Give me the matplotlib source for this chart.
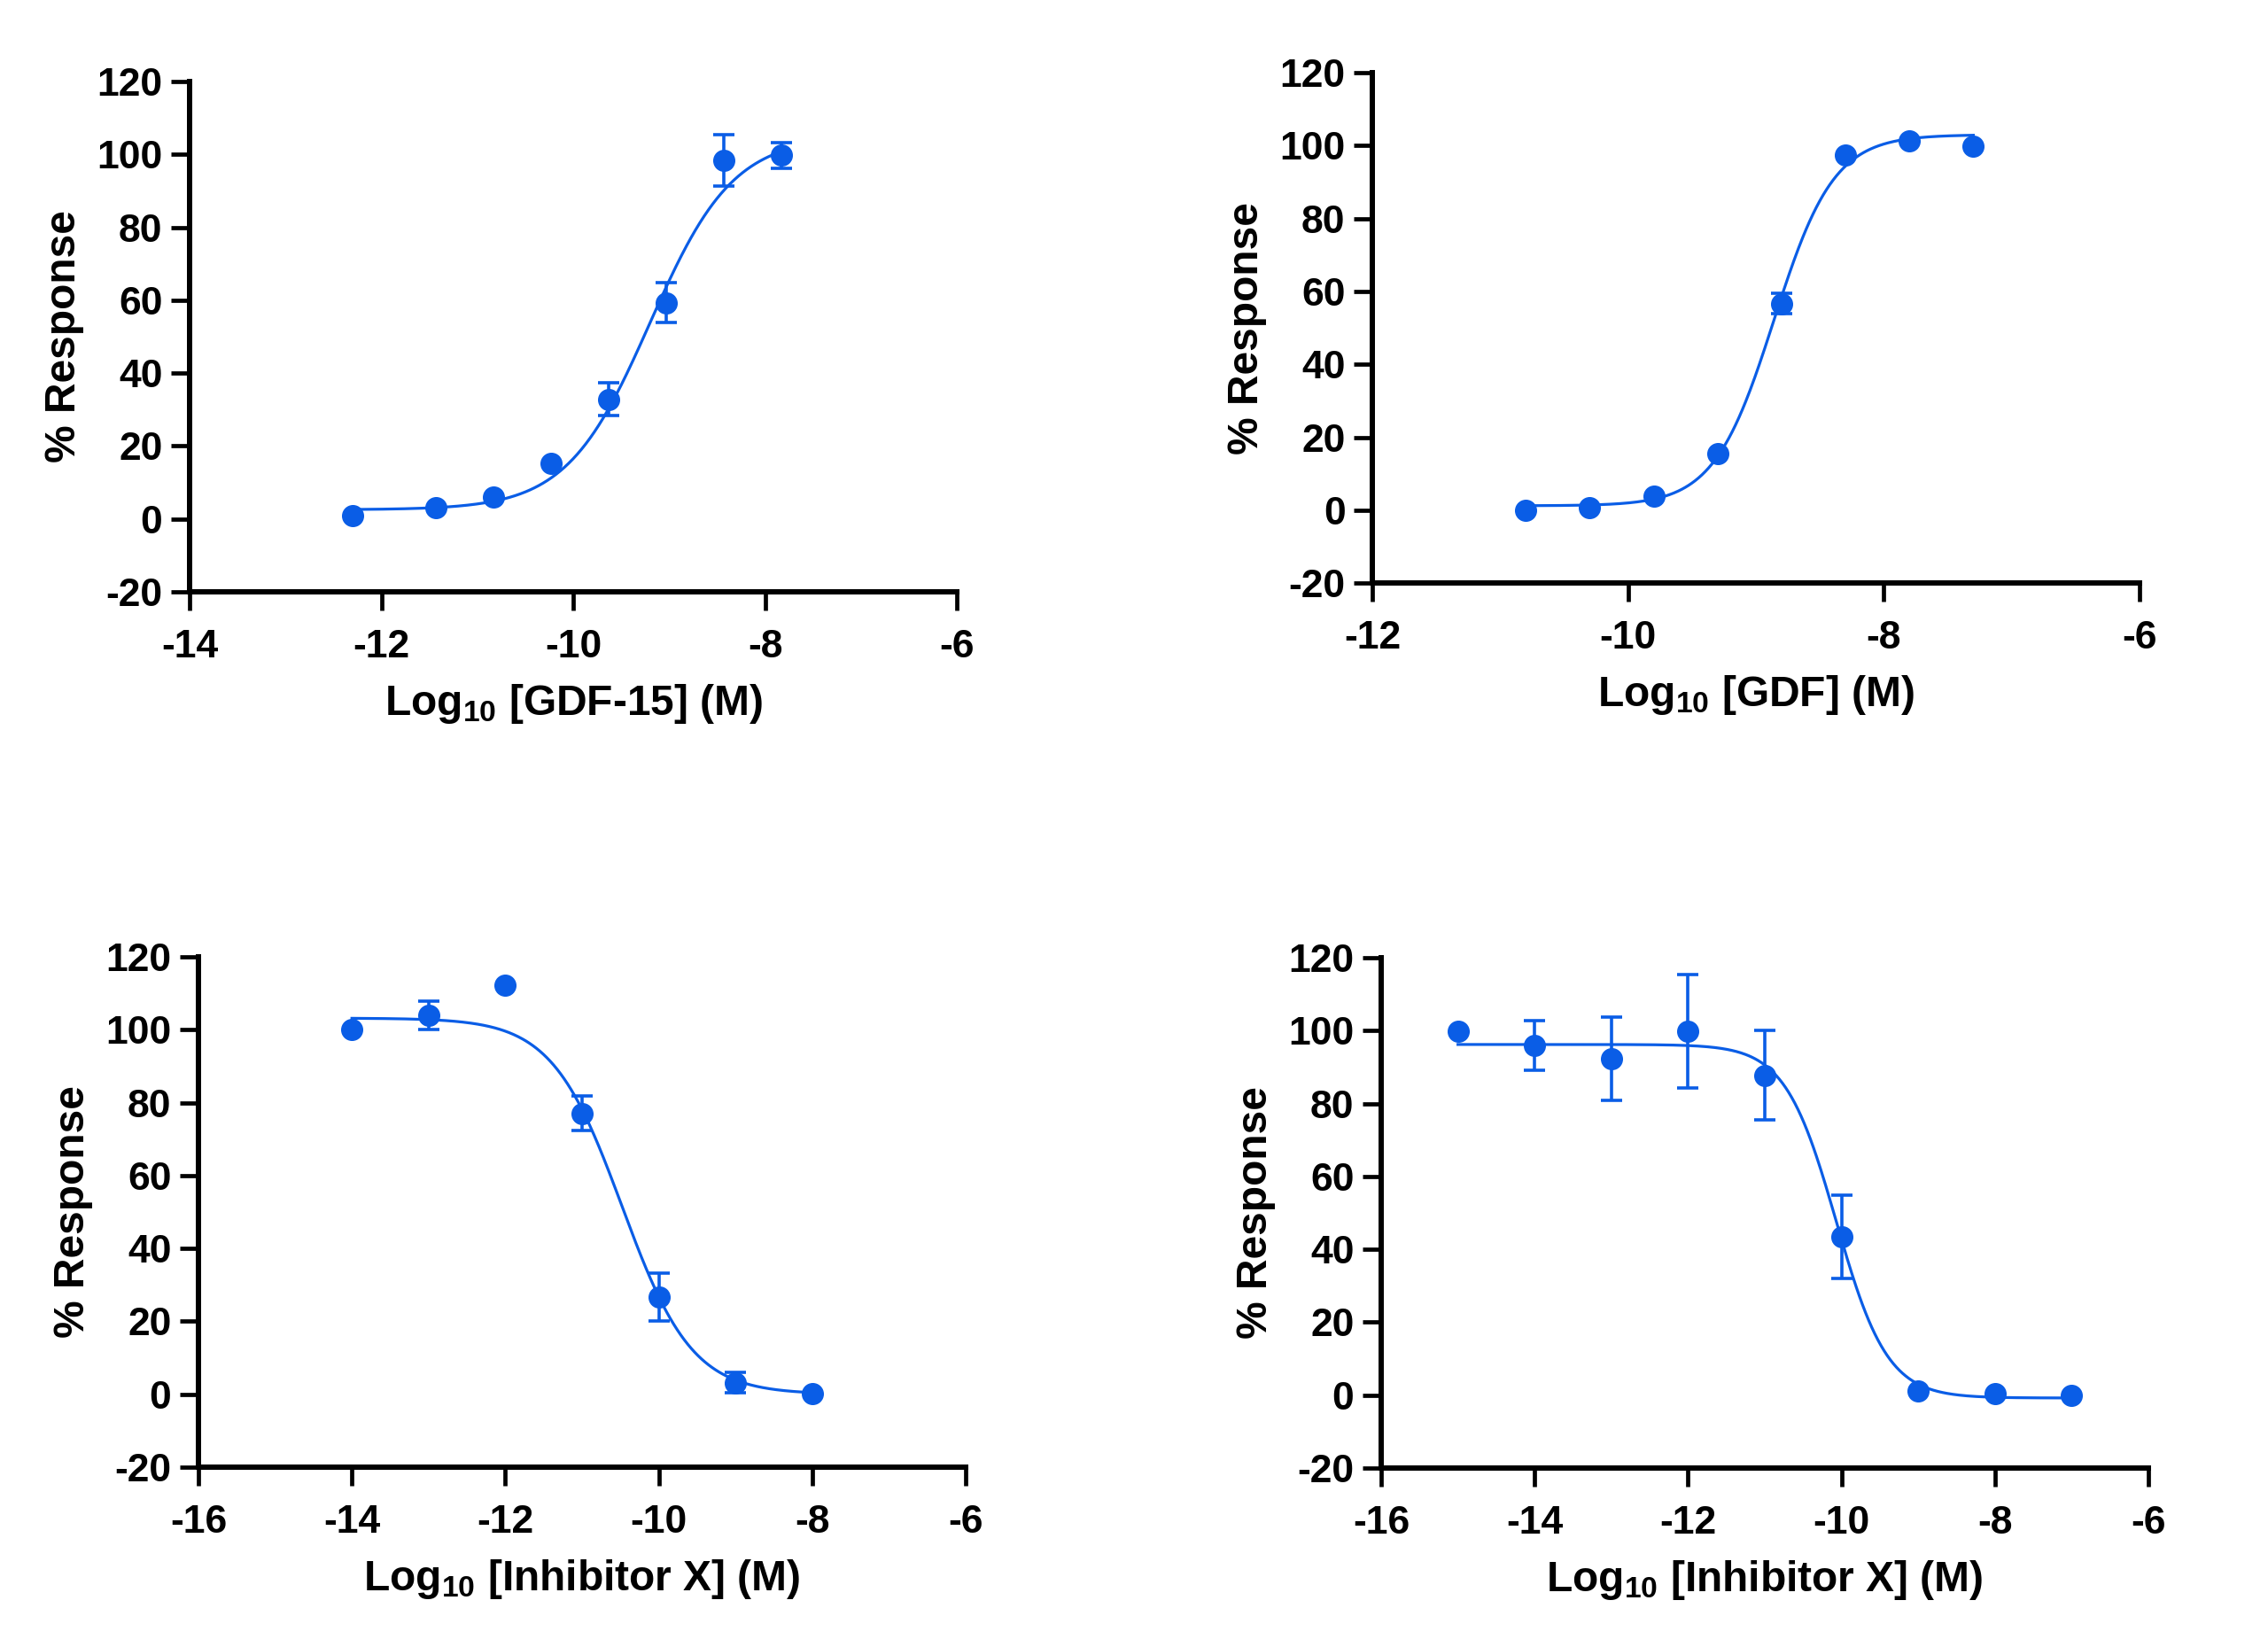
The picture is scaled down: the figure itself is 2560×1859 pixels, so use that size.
import numpy as np
from matplotlib import pyplot as plt

plt.rcParams['font.family'] = ['Liberation Sans', 'DejaVu Sans']
plt.rcParams['font.weight'] = 'bold'
plt.rcParams['axes.unicode_minus'] = False
plt.rcParams['mathtext.fontset'] = 'custom'
plt.rcParams['mathtext.rm'] = 'Liberation Sans:bold'
plt.rcParams['mathtext.bf'] = 'Liberation Sans:bold'

BLUE = "#0A5DE6"

# panel A: GDF-15 agonist
gdf15_x = [-12.3, -11.43, -10.83, -10.23, -9.63, -9.03, -8.43, -7.83]
gdf15_y = [0.8, 3.2, 6.0, 15.2, 32.8, 59.3, 98.4, 99.8]
gdf15_err = [0, 0, 0, 0, 4.5, 5.5, 7.0, 3.5]
gdf15_fit = [2.5, 105.0, -9.2, 1.0]  # bottom, top, logEC50, hill

# panel B: GDF agonist
gdf_x = [-10.8, -10.3, -9.8, -9.3, -8.8, -8.3, -7.8, -7.3]
gdf_y = [0.0, 0.7, 3.8, 15.6, 56.6, 97.4, 101.3, 99.8]
gdf_err = [0, 0, 0, 0, 2.8, 0, 0, 0]
gdf_fit = [1.2, 103.0, -8.86, 1.85]

# panel C: inhibitor X (run 1)
inh1_x = [-14, -13, -12, -11, -10, -9, -8]
inh1_y = [100.0, 104.0, 112.2, 77.1, 26.7, 3.2, 0.2]
inh1_err = [0, 3.8, 0, 4.8, 6.5, 2.9, 0]
inh1_fit = [0.0, 103.2, -10.48, -0.95]

# panel D: inhibitor X (run 2)
inh2_x = [-15, -14, -13, -12, -11, -10, -9, -8, -7]
inh2_y = [99.9, 95.9, 92.3, 99.9, 87.7, 43.4, 1.2, 0.3, -0.1]
inh2_err = [0, 6.8, 11.5, 15.6, 12.3, 11.5, 0, 0, 0]
inh2_fit = [-0.8, 96.2, -10.07, -1.3]

y_ticks = [-20, 0, 20, 40, 60, 80, 100, 120]


def four_pl(x, bottom, top, logec50, hill):
    return bottom + (top - bottom) / (1 + 10 ** ((logec50 - x) * hill))


def dose_panel(ax, x, y, err, fit, xlim, xlabel):
    x = np.array(x)
    y = np.array(y)
    err = np.array(err)
    xs = np.linspace(x.min(), x.max(), 400)
    ax.plot(xs, four_pl(xs, *fit), color=BLUE, lw=2.3, zorder=2)
    has_err = err > 0
    ax.errorbar(x[has_err], y[has_err], yerr=err[has_err], fmt="none",
                ecolor=BLUE, elinewidth=2.6, capsize=8.5, capthick=2.6, zorder=3)
    ax.plot(x, y, "o", color=BLUE, ms=17, mec=BLUE, zorder=4)

    ax.set_xlim(*xlim)
    ax.set_ylim(-20, 120)
    ax.set_xticks(np.arange(xlim[0], xlim[1] + 1, 2))
    ax.set_yticks(y_ticks)
    for side in ["top", "right"]:
        ax.spines[side].set_visible(False)
    for side in ["left", "bottom"]:
        ax.spines[side].set_linewidth(4.3)
    ax.tick_params(width=3.4, length=15, labelsize=32)
    ax.tick_params(axis="x", pad=15)
    ax.tick_params(axis="y", pad=7)
    ax.set_ylabel("% Response", fontsize=34.5, fontweight="bold", labelpad=10)
    ax.set_xlabel(xlabel, fontsize=34.5, fontweight="bold", labelpad=14)


fig = plt.figure(figsize=(25.6, 18.59), dpi=100)
w, h = 0.3383, 0.3098
ax1 = fig.add_axes([0.0836, 0.6407, w, h])
ax2 = fig.add_axes([0.6051, 0.6460, w, h])
ax3 = fig.add_axes([0.0875, 0.1092, w, h])
ax4 = fig.add_axes([0.6090, 0.1087, w, h])

dose_panel(ax1, gdf15_x, gdf15_y, gdf15_err, gdf15_fit, (-14, -6),
           r"Log$_{\mathbf{10}}$ [GDF-15] (M)")
dose_panel(ax2, gdf_x, gdf_y, gdf_err, gdf_fit, (-12, -6),
           r"Log$_{\mathbf{10}}$ [GDF] (M)")
dose_panel(ax3, inh1_x, inh1_y, inh1_err, inh1_fit, (-16, -6),
           r"Log$_{\mathbf{10}}$ [Inhibitor X] (M)")
dose_panel(ax4, inh2_x, inh2_y, inh2_err, inh2_fit, (-16, -6),
           r"Log$_{\mathbf{10}}$ [Inhibitor X] (M)")

fig.savefig("out.png", dpi=100)
